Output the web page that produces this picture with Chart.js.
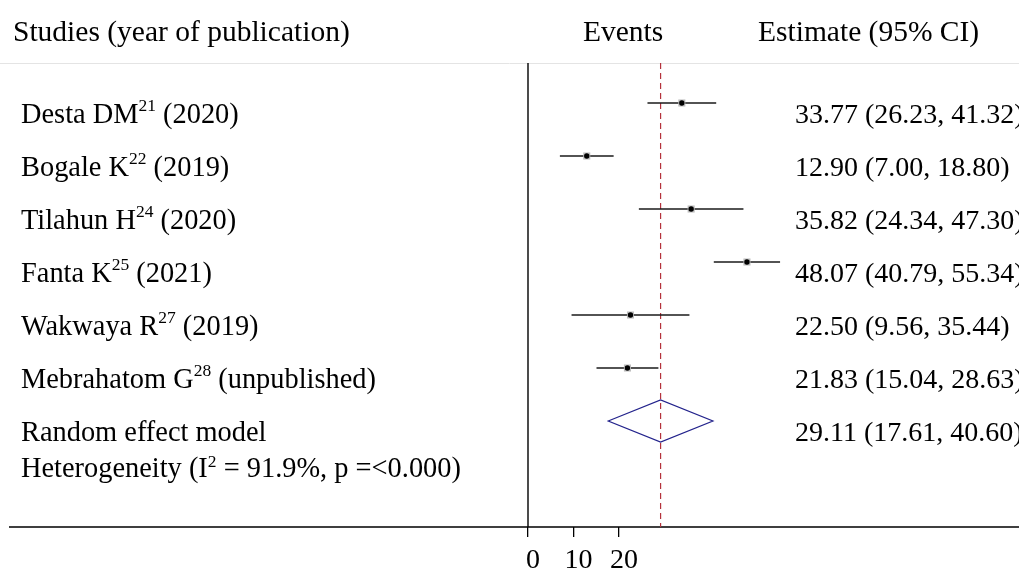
<!DOCTYPE html>
<html>
<head>
<meta charset="utf-8">
<script src="https://cdn.jsdelivr.net/npm/chart.js@4"></script>
<style>
  body { margin: 0; background: #fff; }
  canvas { display: block; }
</style>
</head>
<body>
<canvas id="forest" width="1019" height="571"></canvas>
<script>
// study rows (top to bottom)
const studies = ['Desta DM', 'Bogale K', 'Tilahun H', 'Fanta K', 'Wakwaya R', 'Mebrahatom G'];
const refs = ['21', '22', '24', '25', '27', '28'];
const years = ['(2020)', '(2019)', '(2020)', '(2021)', '(2019)', '(unpublished)'];
const estimates = [33.77, 12.90, 35.82, 48.07, 22.50, 21.83];
const lower = [26.23, 7.00, 24.34, 40.79, 9.56, 15.04];
const upper = [41.32, 18.80, 47.30, 55.34, 35.44, 28.63];

// pooled (random effect) result
const pooled = 29.11;
const pooledLower = 17.61;
const pooledUpper = 40.60;

const xTicks = [0, 10, 20];

const SERIF = '"Liberation Serif", "Times New Roman", serif';
const fmt = v => v.toFixed(2);

function drawRich(ctx, x, y, parts, size) {
  parts.forEach(p => {
    ctx.font = p.sup ? `17.5px ${SERIF}` : `${size}px ${SERIF}`;
    ctx.fillText(p.t, x, p.sup ? y - p.sup : y);
    x += ctx.measureText(p.t).width;
  });
}

const forestPlugin = {
  id: 'forest',
  beforeDatasetsDraw(chart) {
    const { ctx, chartArea, scales: { x, y } } = chart;
    ctx.save();

    // faint top rule
    ctx.strokeStyle = '#e4e4e4';
    ctx.lineWidth = 1;
    ctx.beginPath();
    ctx.moveTo(0, chartArea.top + 0.5);
    ctx.lineTo(chart.width, chartArea.top + 0.5);
    ctx.stroke();

    // left axis and bottom rule
    ctx.strokeStyle = '#000';
    ctx.lineWidth = 1.4;
    ctx.beginPath();
    ctx.moveTo(chartArea.left, chartArea.top);
    ctx.lineTo(chartArea.left, chartArea.bottom);
    ctx.moveTo(9, chartArea.bottom);
    ctx.lineTo(chart.width, chartArea.bottom);
    ctx.stroke();

    // pooled estimate reference line
    const px = x.getPixelForValue(pooled);
    ctx.strokeStyle = '#b4323c';
    ctx.lineWidth = 1.2;
    ctx.setLineDash([6, 4]);
    ctx.beginPath();
    ctx.moveTo(px, chartArea.top);
    ctx.lineTo(px, chartArea.bottom);
    ctx.stroke();
    ctx.setLineDash([]);

    // confidence intervals
    ctx.strokeStyle = '#1a1a1a';
    ctx.lineWidth = 1.5;
    estimates.forEach((_, i) => {
      const yy = y.getPixelForValue(i);
      ctx.beginPath();
      ctx.moveTo(x.getPixelForValue(lower[i]), yy);
      ctx.lineTo(x.getPixelForValue(upper[i]), yy);
      ctx.stroke();
    });

    // pooled diamond
    const dy = y.getPixelForValue(studies.length);
    const h = 21;
    ctx.strokeStyle = '#23238c';
    ctx.lineWidth = 1.2;
    ctx.beginPath();
    ctx.moveTo(x.getPixelForValue(pooledLower), dy);
    ctx.lineTo(px, dy - h);
    ctx.lineTo(x.getPixelForValue(pooledUpper), dy);
    ctx.lineTo(px, dy + h);
    ctx.closePath();
    ctx.stroke();
    ctx.restore();
  },
  afterDraw(chart) {
    const { ctx, scales: { y } } = chart;
    ctx.save();
    ctx.fillStyle = '#000';
    ctx.textBaseline = 'alphabetic';

    // header
    ctx.font = `29.5px ${SERIF}`;
    ctx.fillText('Studies (year of publication)', 13, 41);
    ctx.fillText('Events', 583, 41);
    ctx.fillText('Estimate (95% CI)', 758, 41);

    // rows
    studies.forEach((s, i) => {
      const base = y.getPixelForValue(i) + 19.5;
      drawRich(ctx, 21, base, [{ t: s }, { t: refs[i], sup: 12 }, { t: ' ' + years[i] }], 28.4);
      ctx.font = `28px ${SERIF}`;
      ctx.fillText(`${fmt(estimates[i])} (${fmt(lower[i])}, ${fmt(upper[i])})`, 795, base);
    });

    const pb = y.getPixelForValue(studies.length) + 19.5;
    ctx.font = `28.4px ${SERIF}`;
    ctx.fillText('Random effect model', 21, pb);
    ctx.font = `28px ${SERIF}`;
    ctx.fillText(`${fmt(pooled)} (${fmt(pooledLower)}, ${fmt(pooledUpper)})`, 795, pb);
    drawRich(ctx, 21, pb + 36.5, [
      { t: 'Heterogeneity (I' },
      { t: '2', sup: 10 },
      { t: ' = 91.9%, p =<0.000)' }
    ], 28.4);
    ctx.restore();
  }
};

const points = estimates.map((v, i) => ({ x: v, y: i }));

new Chart(document.getElementById('forest'), {
  type: 'scatter',
  data: {
    datasets: [{
      // black centre dot (dataset 0 is drawn on top)
      data: points,
      pointStyle: 'circle',
      pointRadius: 2.7,
      backgroundColor: '#000',
      borderWidth: 0
    }, {
      // grey square behind it
      data: points,
      pointStyle: 'rect',
      pointRadius: 5,
      backgroundColor: '#bdbdbd',
      borderWidth: 0
    }]
  },
  options: {
    responsive: false,
    animation: false,
    devicePixelRatio: 1,
    layout: { padding: { top: 63, left: 528, right: 0, bottom: 0 } },
    plugins: {
      legend: { display: false },
      tooltip: { enabled: false }
    },
    scales: {
      x: {
        type: 'linear',
        min: 0,
        max: 106.7,
        border: { display: false },
        grid: {
          drawOnChartArea: false,
          drawTicks: true,
          tickLength: 10,
          color: '#000',
          lineWidth: 1.3
        },
        afterBuildTicks: axis => { axis.ticks = xTicks.map(v => ({ value: v })); },
        afterFit: axis => { axis.height = 44; },
        ticks: {
          color: '#000',
          padding: 7,
          labelOffset: 5,
          maxRotation: 0,
          autoSkip: false,
          font: { family: 'Liberation Serif', size: 28 }
        }
      },
      y: {
        type: 'linear',
        display: false,
        reverse: true,
        min: -0.755,
        max: 8.0
      }
    }
  },
  plugins: [forestPlugin]
});
</script>
</body>
</html>
